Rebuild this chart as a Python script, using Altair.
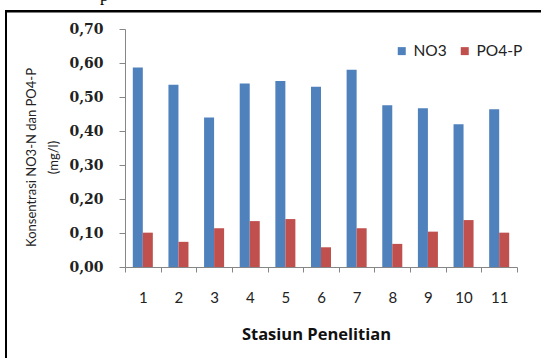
import altair as alt
import pandas as pd

# Station numbers and measured concentrations (mg/l)
stations = [str(i) for i in range(1, 12)]
no3 = [0.587, 0.536, 0.440, 0.540, 0.547, 0.530, 0.580, 0.476, 0.467, 0.420, 0.464]
po4 = [0.101, 0.074, 0.114, 0.135, 0.141, 0.058, 0.114, 0.068, 0.104, 0.138, 0.101]
series = ["NO3", "PO4-P"]
colors = ["#4F81BD", "#C0504D"]
y_ticks = [0.0, 0.1, 0.2, 0.3, 0.4, 0.5, 0.6, 0.7]

rows = []
for i, st in enumerate(stations):
    rows.append({"Stasiun": st, "Seri": series[0], "Nilai": no3[i]})
    rows.append({"Stasiun": st, "Seri": series[1], "Nilai": po4[i]})
df = pd.DataFrame(rows)

axis_grey = "#868686"

bars = alt.Chart(df).mark_bar().encode(
    x=alt.X(
        "Stasiun:N",
        sort=stations,
        scale=alt.Scale(paddingInner=0, paddingOuter=0),
        axis=alt.Axis(
            title="Stasiun Penelitian",
            labelAngle=0,
            tickBand="extent",
            domainColor=axis_grey,
            tickColor=axis_grey,
            tickSize=5,
            labelPadding=18,
            labelFont="Lato",
            labelFontSize=15,
            labelColor="#222222",
            titleFont="Open Sans",
            titleFontSize=16.5,
            titleFontWeight="bold",
            titleColor="#111111",
            titleX=191,
            titleY=72,
            titleBaseline="alphabetic",
            grid=False,
        ),
    ),
    xOffset=alt.XOffset(
        "Seri:N",
        sort=series,
        scale=alt.Scale(paddingInner=0, paddingOuter=0.78),
    ),
    y=alt.Y(
        "Nilai:Q",
        scale=alt.Scale(domain=[0, 0.7], nice=False, zero=True),
        axis=alt.Axis(
            title=["Konsentrasi NO3-N dan PO4-P", "(mg/l)"],
            values=y_ticks,
            labelExpr="replace(format(datum.value, '.2f'), '.', ',')",
            domainColor=axis_grey,
            tickColor=axis_grey,
            tickSize=6,
            labelPadding=16,
            labelFont="DejaVu Serif",
            labelFontSize=14,
            labelFontWeight="bold",
            labelColor="#222222",
            titleFont="Lato",
            titleFontSize=13,
            titleFontWeight="normal",
            titleColor="#222222",
            titleLineHeight=22,
            titleX=-87,
            titleY=128,
            titleAlign="center",
            grid=False,
        ),
    ),
    color=alt.Color(
        "Seri:N",
        sort=series,
        scale=alt.Scale(domain=series, range=colors),
        legend=alt.Legend(
            title=None,
            orient="none",
            legendX=269,
            legendY=14,
            direction="horizontal",
            symbolType="square",
            symbolSize=64,
            symbolStrokeWidth=0,
            labelFont="Lato",
            labelFontSize=15.5,
            labelColor="#222222",
            labelOffset=4,
            columnPadding=10,
        ),
    ),
)

# Left edge of the figure frame
frame_left = alt.Chart(pd.DataFrame({"k": [0]})).mark_rect(color="#000000").encode(
    x=alt.value(-120),
    x2=alt.value(-118),
    y=alt.value(-19),
    y2=alt.value(400),
)

# Top edge of the figure frame
frame_top = alt.Chart(pd.DataFrame({"k": [1]})).mark_rect(color="#000000").encode(
    x=alt.value(-120),
    x2=alt.value(416),
    y=alt.value(-19),
    y2=alt.value(-17),
)

# Top edge again as the domain line of a bare top axis spanning the figure width
frame_top_axis = alt.Chart(pd.DataFrame({"u": [0.0, 1.0]})).mark_point(opacity=0).encode(
    x=alt.X(
        "u:Q",
        scale=alt.Scale(domain=[0, 1], range=[-119, 416], nice=False, zero=False),
        axis=alt.Axis(
            orient="top",
            offset=18,
            domainColor="#000000",
            domainWidth=2,
            ticks=False,
            labels=False,
            grid=False,
            title=None,
        ),
    ),
)

# Fragment of the preceding line of text above the frame
frag = alt.Chart(pd.DataFrame({"t": ["p"]})).mark_text(
    font="Liberation Serif", fontSize=17, align="left", baseline="alphabetic", color="#000000"
).encode(
    text="t:N",
    x=alt.value(-25),
    y=alt.value(-28),
)

chart = (
    alt.layer(frame_left, frame_top, frame_top_axis, frag, bars)
    .resolve_scale(x="independent")
    .resolve_axis(x="independent")
    .properties(
        width=392,
        height=238,
        padding={"left": 125, "top": 29, "right": 24, "bottom": 91},
        autosize=alt.AutoSizeParams(type="none"),
        background="#ffffff",
    )
    .configure_view(stroke=None)
)

chart.save("out.html", embed_options={"renderer": "svg", "actions": False})
